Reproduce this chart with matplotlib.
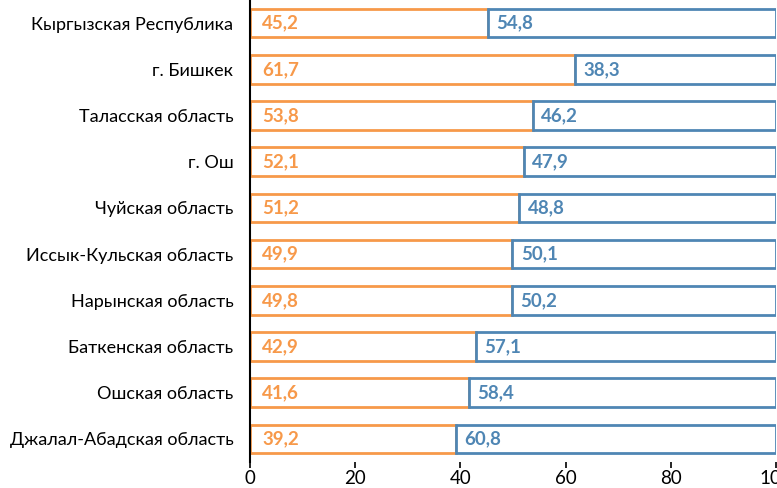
import matplotlib.pyplot as plt
import numpy as np

plt.rcParams['font.family'] = ['Lato', 'DejaVu Sans']

regions = ['Кыргызская Республика', 'г. Бишкек', 'Таласская область', 'г. Ош',
           'Чуйская область', 'Иссык-Кульская область', 'Нарынская область',
           'Баткенская область', 'Ошская область', 'Джалал-Абадская область']
part_a = [45.2, 61.7, 53.8, 52.1, 51.2, 49.9, 49.8, 42.9, 41.6, 39.2]
part_b = [54.8, 38.3, 46.2, 47.9, 48.8, 50.1, 50.2, 57.1, 58.4, 60.8]

orange = '#F7994A'
blue = '#4F86B4'

fig = plt.figure(figsize=(7.77, 4.88), dpi=100)
ax = fig.add_axes([250 / 777, 1 - 462 / 488, 526 / 777, 462 / 488])

y = np.arange(len(regions))
ax.barh(y, part_a, height=0.62, color='white', edgecolor=orange, linewidth=2)
ax.barh(y, part_b, left=part_a, height=0.62, color='white', edgecolor=blue, linewidth=2)

for i in range(len(regions)):
    ax.text(2.3, y[i], f'{part_a[i]:.1f}'.replace('.', ','), color=orange,
            fontsize=13.5, fontweight='bold', va='center', ha='left')
    ax.text(part_a[i] + 1.6, y[i], f'{part_b[i]:.1f}'.replace('.', ','), color=blue,
            fontsize=13.5, fontweight='bold', va='center', ha='left')

ax.set_yticks(y)
ax.set_yticklabels(regions, fontsize=13)
ax.set_ylim(len(regions) - 0.5, -0.5)
ax.set_xlim(0, 100)
ax.set_xticks([0, 20, 40, 60, 80, 100])
ax.tick_params(axis='x', labelsize=13.5, length=4.5, width=1.2, color='black', pad=1)
ax.tick_params(axis='y', length=0, pad=12)

for s in ['top', 'right', 'bottom']:
    ax.spines[s].set_visible(False)
ax.spines['left'].set_linewidth(1.5)

fig.savefig('out.png', dpi=100)
